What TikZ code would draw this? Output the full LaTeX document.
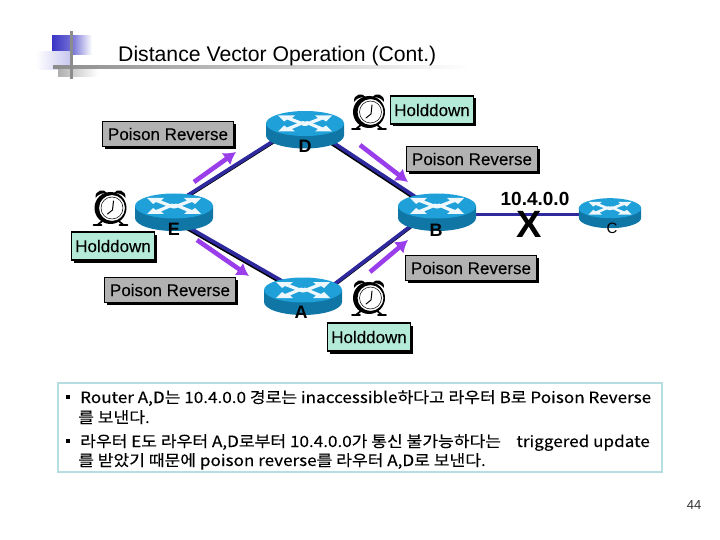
\documentclass[tikz,border=0pt]{standalone}
\usepackage{fontspec}
\usepackage{graphicx}
\setmainfont{Liberation Sans}
\newfontfamily\cjk[FakeBold=0.2]{Noto Sans CJK KR}
\newfontfamily\semib[FakeBold=0.1]{Liberation Sans}
\usetikzlibrary{arrows.meta,shadows}
\definecolor{linkblue}{HTML}{2E2A9E}
\definecolor{arrowpurple}{HTML}{9A3DEB}
\definecolor{boxgray}{HTML}{B2B2B2}
\definecolor{boxmint}{HTML}{B4EBD8}
\definecolor{frameblue}{HTML}{B6DDE2}
\definecolor{rtop}{HTML}{1FA0D8}
\definecolor{rside}{HTML}{0F76A6}
\definecolor{squareblue}{HTML}{3A35C4}
\definecolor{rulegray}{HTML}{8C8C8C}
\newcommand{\widened}[1]{\scalebox{1.104}[1]{#1}}
\tikzset{
  x=1pt,y=-1pt,
  link/.style={line width=3.6pt,linkblue},
  linkshade/.style={line width=3.6pt,black},
  sendarrow/.style={line width=4.6pt,arrowpurple,-{Latex[length=12pt,width=15pt]}},
  tag/.style={draw=black,line width=1.4pt,inner sep=0pt,text=black,font=\semib\fontsize{17}{19}\selectfont,
    drop shadow={shadow xshift=2.5pt,shadow yshift=-2.5pt,fill=black,opacity=1}},
  poison/.style={tag,fill=boxgray,minimum width=131pt,minimum height=25pt},
  hold/.style={tag,fill=boxmint,minimum width=83pt,minimum height=28pt},
  rname/.style={font=\fontsize{18}{20}\selectfont\bfseries,text=black,inner sep=0pt},
  txt/.style={anchor=base west,inner sep=0pt,font=\cjk\fontsize{15.5}{18}\selectfont,text=black},
  pics/router/.style={code={
    \begin{scope}[xscale=#1,yscale=#1]
    \fill[rside] (-39,-6) -- (-39,6) arc[start angle=180,end angle=0,x radius=39,y radius=13] -- (39,-6) -- cycle;
    \fill[rtop] (0,-6) ellipse[x radius=39,y radius=12.5];
    \foreach \sx in {1,-1}{
      \fill[white!92!rtop] ({\sx*-27},-14) -- ({\sx*-10},-14) -- ({\sx*-13},-11.5) -- ({\sx*4},-5) -- ({\sx*-1},-3.5) -- ({\sx*-18},-10) -- ({\sx*-21},-8) -- cycle;
      \fill[white!92!rtop] ({\sx*27},2) -- ({\sx*10},2) -- ({\sx*13},-0.5) -- ({\sx*-2},-7) -- ({\sx*2},-8.5) -- ({\sx*18},-2) -- ({\sx*21},-4) -- cycle;
    }
    \end{scope}
  }},
  pics/clock/.style={code={
    \fill[black] (-15,-10) .. controls (-16,-18) and (-6,-20) .. (-3,-14.5) .. controls (-8,-15.5) and (-12,-14) .. (-15,-10) -- cycle;
    \fill[black] (15,-10) .. controls (16,-18) and (6,-20) .. (3,-14.5) .. controls (8,-15.5) and (12,-14) .. (15,-10) -- cycle;
    \draw[black,line width=1.8pt,line cap=round] (-7,12) -- (-13,17) (-17,17) -- (-9,17);
    \draw[black,line width=1.8pt,line cap=round] (7,12) -- (13,17) (17,17) -- (9,17);
    \fill[white] (0,0) circle[radius=15];
    \fill[black,even odd rule] (0,0) circle[radius=16] (1.5,0) circle[radius=13];
    \draw[black,line width=0.5pt] (1.5,0) circle[radius=11];
    \draw[black,line width=1pt,line cap=round] (2,2) -- (3,-7) (2,2) -- (-3,6);
  }}
}
\begin{document}
\begin{tikzpicture}
\useasboundingbox (0,0) rectangle (720,540);
% header ornament
\shade[left color=squareblue,right color=white,middle color=squareblue!70!white] (52,36) rectangle (92,55);
\shade[left color=white,right color=squareblue!28!white] (36,52) rectangle (70,70);
\shade[left color=rulegray!70!white,right color=white] (58,70) rectangle (98,77);
\shade[left color=rulegray,right color=white] (53,65.5) rectangle (470,69);
\fill[rulegray] (69.5,31) rectangle (73,79);
\node[anchor=base west,inner sep=0pt,font=\fontsize{21.2}{24}\selectfont,text=black] (title) at (118,62) {Distance Vector Operation (Cont.)};
% router centres and the ports of their links
\coordinate (D) at (305,129.5);
\coordinate (E) at (174,212);
\coordinate (B) at (437,212);
\coordinate (A) at (303,296);
\coordinate (C) at (610,213);
\coordinate (Dl) at (305,121);
\coordinate (Dr) at (305,124);
\coordinate (Eu) at (174,204);
\coordinate (El) at (174,219);
\coordinate (Bu) at (437,211);
\coordinate (Bl) at (437,206);
\coordinate (Bc) at (437,214.5);
\coordinate (Cc) at (610,214.5);
\coordinate (Au) at (303,293);
\coordinate (Ar) at (303,308);
% links
\foreach \p/\q in {Eu/Dl,Dr/Bu,El/Au,Ar/Bl}{
  \draw[linkshade] ([shift={(-0.8,1.3)}]\p) -- ([shift={(-0.8,1.3)}]\q);
  \draw[link] (\p) -- (\q);
}
\draw[link] (Bc) -- (Cc);
% routers
\pic at (D) {router=1};
\pic at (E) {router=1};
\pic at (B) {router=1};
\pic at (A) {router=1};
\pic at (C) {router=.8};
\node[rname] (lD) at (305,146) {D};
\node[rname] (lE) at (174,229.5) {E};
\node[rname] (lB) at (436,230) {B};
\node[rname] (lA) at (301,312) {A};
\node[font=\fontsize{15}{17}\selectfont,inner sep=0pt] (lC) at (612,228) {C};
\node[font=\fontsize{19}{21}\selectfont\bfseries,inner sep=0pt] (net) at (535,199) {10.4.0.0};
\node[font=\fontsize{38}{40}\selectfont\bfseries,inner sep=0pt] (cross) at (529.5,224) {X};
% purple arrows
\coordinate (a1s) at (194,182); \coordinate (a1e) at (236,152);
\coordinate (a2s) at (360,145); \coordinate (a2e) at (408,182);
\coordinate (a3s) at (197,240); \coordinate (a3e) at (249,276);
\coordinate (a4s) at (370,272); \coordinate (a4e) at (408,240);
\draw[sendarrow] (a1s) -- (a1e);
\draw[sendarrow] (a2s) -- (a2e);
\draw[sendarrow] (a3s) -- (a3e);
\draw[sendarrow] (a4s) -- (a4e);
% clocks
\pic at (369,112) {clock};
\pic at (110.5,208) {clock};
\pic at (369,298) {clock};
% tags
\node[poison] (p1) at (168,134) {Poison Reverse};
\node[poison] (p2) at (472,159) {Poison Reverse};
\node[poison] (p3) at (471,268) {Poison Reverse};
\node[poison] (p4) at (170,290) {Poison Reverse};
\node[hold] (h1) at (432,110) {Holddown};
\node[hold] (h2) at (113,246) {Holddown};
\node[hold] (h3) at (369,337) {Holddown};
% text panel
\node[draw=frameblue,line width=2.6pt,fill=white,minimum width=604pt,minimum height=89pt,inner sep=0pt] (panel) at (360,427.5) {};
\node[fill=black,minimum size=4pt,inner sep=0pt] (b1) at (68,397) {};
\node[fill=black,minimum size=4pt,inner sep=0pt] (b2) at (68,441) {};
\node[txt] (l1) at (80,403) {\widened{Router A,D는 10.4.0.0 경로는 inaccessible하다고 라우터 B로 Poison Reverse}};
\node[txt] (l2) at (78,423) {\widened{를 보낸다.}};
\node[txt] (l3) at (80,447) {\widened{라우터 E도 라우터 A,D로부터 10.4.0.0가 통신 불가능하다는\ \ \ \ triggered update}};
\node[txt] (l4) at (78,466) {\widened{를 받았기 때문에 poison reverse를 라우터 A,D로 보낸다.}};
\node[font=\fontsize{13}{15}\selectfont,inner sep=0pt,text=black!80] (page) at (694,505) {44};
\end{tikzpicture}
\end{document}
